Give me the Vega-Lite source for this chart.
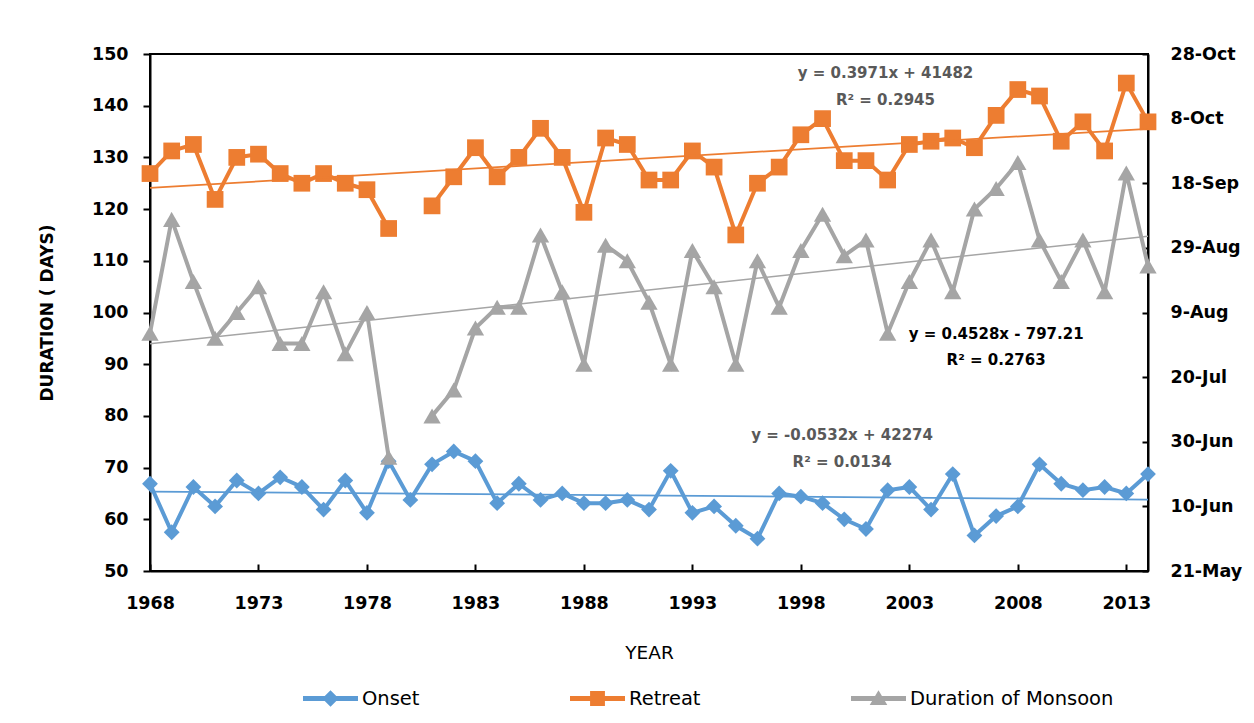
{
  "$schema": "https://vega.github.io/schema/vega-lite/v6.json",
  "width": 998,
  "height": 517,
  "autosize": {"type": "none"},
  "padding": {"left": 150, "top": 54, "right": 106, "bottom": 152},
  "background": "white",
  "config": {
    "font": "DejaVu Sans",
    "view": {"stroke": "black", "strokeWidth": 2},
    "axis": {"grid": false, "domainColor": "black", "domainWidth": 2, "tickColor": "black", "tickWidth": 2, "labelColor": "black", "labelFont": "DejaVu Sans", "labelFontWeight": "bold", "labelFontSize": 17.5, "titleColor": "black", "titleFont": "DejaVu Sans"}
  },
  "datasets": {
    "monsoon": [
      {"year": 1968, "Onset": 168, "Retreat": 264, "Duration of Monsoon": 96},
      {"year": 1969, "Onset": 153, "Retreat": 271, "Duration of Monsoon": 118},
      {"year": 1970, "Onset": 167, "Retreat": 273, "Duration of Monsoon": 106},
      {"year": 1971, "Onset": 161, "Retreat": 256, "Duration of Monsoon": 95},
      {"year": 1972, "Onset": 169, "Retreat": 269, "Duration of Monsoon": 100},
      {"year": 1973, "Onset": 165, "Retreat": 270, "Duration of Monsoon": 105},
      {"year": 1974, "Onset": 170, "Retreat": 264, "Duration of Monsoon": 94},
      {"year": 1975, "Onset": 167, "Retreat": 261, "Duration of Monsoon": 94},
      {"year": 1976, "Onset": 160, "Retreat": 264, "Duration of Monsoon": 104},
      {"year": 1977, "Onset": 169, "Retreat": 261, "Duration of Monsoon": 92},
      {"year": 1978, "Onset": 159, "Retreat": 259, "Duration of Monsoon": 100},
      {"year": 1979, "Onset": 175, "Retreat": 247, "Duration of Monsoon": 72},
      {"year": 1980, "Onset": 163, "Retreat": null, "Duration of Monsoon": null},
      {"year": 1981, "Onset": 174, "Retreat": 254, "Duration of Monsoon": 80},
      {"year": 1982, "Onset": 178, "Retreat": 263, "Duration of Monsoon": 85},
      {"year": 1983, "Onset": 175, "Retreat": 272, "Duration of Monsoon": 97},
      {"year": 1984, "Onset": 162, "Retreat": 263, "Duration of Monsoon": 101},
      {"year": 1985, "Onset": 168, "Retreat": 269, "Duration of Monsoon": 101},
      {"year": 1986, "Onset": 163, "Retreat": 278, "Duration of Monsoon": 115},
      {"year": 1987, "Onset": 165, "Retreat": 269, "Duration of Monsoon": 104},
      {"year": 1988, "Onset": 162, "Retreat": 252, "Duration of Monsoon": 90},
      {"year": 1989, "Onset": 162, "Retreat": 275, "Duration of Monsoon": 113},
      {"year": 1990, "Onset": 163, "Retreat": 273, "Duration of Monsoon": 110},
      {"year": 1991, "Onset": 160, "Retreat": 262, "Duration of Monsoon": 102},
      {"year": 1992, "Onset": 172, "Retreat": 262, "Duration of Monsoon": 90},
      {"year": 1993, "Onset": 159, "Retreat": 271, "Duration of Monsoon": 112},
      {"year": 1994, "Onset": 161, "Retreat": 266, "Duration of Monsoon": 105},
      {"year": 1995, "Onset": 155, "Retreat": 245, "Duration of Monsoon": 90},
      {"year": 1996, "Onset": 151, "Retreat": 261, "Duration of Monsoon": 110},
      {"year": 1997, "Onset": 165, "Retreat": 266, "Duration of Monsoon": 101},
      {"year": 1998, "Onset": 164, "Retreat": 276, "Duration of Monsoon": 112},
      {"year": 1999, "Onset": 162, "Retreat": 281, "Duration of Monsoon": 119},
      {"year": 2000, "Onset": 157, "Retreat": 268, "Duration of Monsoon": 111},
      {"year": 2001, "Onset": 154, "Retreat": 268, "Duration of Monsoon": 114},
      {"year": 2002, "Onset": 166, "Retreat": 262, "Duration of Monsoon": 96},
      {"year": 2003, "Onset": 167, "Retreat": 273, "Duration of Monsoon": 106},
      {"year": 2004, "Onset": 160, "Retreat": 274, "Duration of Monsoon": 114},
      {"year": 2005, "Onset": 171, "Retreat": 275, "Duration of Monsoon": 104},
      {"year": 2006, "Onset": 152, "Retreat": 272, "Duration of Monsoon": 120},
      {"year": 2007, "Onset": 158, "Retreat": 282, "Duration of Monsoon": 124},
      {"year": 2008, "Onset": 161, "Retreat": 290, "Duration of Monsoon": 129},
      {"year": 2009, "Onset": 174, "Retreat": 288, "Duration of Monsoon": 114},
      {"year": 2010, "Onset": 168, "Retreat": 274, "Duration of Monsoon": 106},
      {"year": 2011, "Onset": 166, "Retreat": 280, "Duration of Monsoon": 114},
      {"year": 2012, "Onset": 167, "Retreat": 271, "Duration of Monsoon": 104},
      {"year": 2013, "Onset": 165, "Retreat": 292, "Duration of Monsoon": 127},
      {"year": 2014, "Onset": 171, "Retreat": 280, "Duration of Monsoon": 109}
    ]
  },
  "data": {"name": "monsoon"},
  "transform": [{"fold": ["Onset", "Retreat", "Duration of Monsoon"], "as": ["series", "value"]}],
  "encoding": {
    "x": {
      "field": "year", "type": "quantitative",
      "scale": {"domain": [1968, 2014], "nice": false, "zero": false},
      "axis": {"values": [1968, 1973, 1978, 1983, 1988, 1993, 1998, 2003, 2008, 2013], "format": "d", "title": "YEAR", "tickSize": -7, "labelPadding": 30, "labelFlush": false, "titlePadding": 32, "titleFontWeight": "normal", "titleFontSize": 18.5}
    },
    "color": {
      "field": "series", "type": "nominal",
      "scale": {"domain": ["Onset", "Retreat", "Duration of Monsoon"], "range": ["#5B9BD5", "#ED7D31", "#A5A5A5"]},
      "legend": {
        "title": null, "orient": "none", "legendX": 153, "legendY": 617, "direction": "horizontal",
        "columnPadding": 150, "symbolSize": 3025, "labelFontSize": 19.5, "labelFont": "DejaVu Sans", "labelColor": "black", "labelOffset": 4, "labelLimit": 0, "symbolStrokeWidth": 0,
        "encode": {"symbols": {"update": {
          "shape": {"signal": "datum.value === 'Onset' ? 'M-1,-0.09H1V0.09H-1Z M0,-0.3L0.3,0L0,0.3L-0.3,0Z' : datum.value === 'Retreat' ? 'M-1,-0.09H1V0.09H-1Z M-0.27,-0.27H0.27V0.27H-0.27Z' : 'M-1,-0.09H1V0.09H-1Z M0,-0.3L0.32,0.24L-0.32,0.24Z'"},
          "fill": {"scale": "color", "field": "value"},
          "stroke": {"value": "transparent"},
          "opacity": {"value": 1}
        }}}
      }
    }
  },
  "layer": [
    {
      "transform": [{"filter": "datum.series !== 'Duration of Monsoon'"}],
      "encoding": {
        "y": {
          "field": "value", "type": "quantitative",
          "scale": {"domain": [141, 301], "nice": false, "zero": false},
          "axis": {"orient": "right", "title": null, "values": [141, 161, 181, 201, 221, 241, 261, 281, 301], "labelExpr": "timeFormat(datetime(2001, 0, datum.value), '%-d-%b')", "tickSize": -6, "labelPadding": 28}
        }
      },
      "layer": [
        {"mark": {"type": "line", "strokeWidth": 4, "invalid": "break-paths-show-domains"}},
        {"transform": [{"filter": "datum.series === 'Onset'"}], "mark": {"type": "point", "shape": "diamond", "filled": true, "size": 250, "opacity": 1}},
        {"transform": [{"filter": "datum.series === 'Retreat'"}], "mark": {"type": "point", "shape": "square", "filled": true, "size": 280, "opacity": 1}},
        {"transform": [{"regression": "value", "on": "year", "groupby": ["series"]}], "mark": {"type": "line", "strokeWidth": 1.75}}
      ]
    },
    {
      "transform": [{"filter": "datum.series === 'Duration of Monsoon'"}],
      "encoding": {
        "y": {
          "field": "value", "type": "quantitative",
          "scale": {"domain": [50, 150], "nice": false, "zero": false},
          "axis": {"orient": "left", "title": "DURATION ( DAYS)", "values": [50, 60, 70, 80, 90, 100, 110, 120, 130, 140, 150], "tickSize": 7, "labelPadding": 15, "titlePadding": 35, "titleFontSize": 17, "titleFontWeight": "bold"}
        }
      },
      "layer": [
        {"mark": {"type": "line", "strokeWidth": 4, "invalid": "break-paths-show-domains"}},
        {"mark": {"type": "point", "shape": "triangle-up", "filled": true, "size": 300, "opacity": 1}},
        {"transform": [{"regression": "value", "on": "year", "groupby": ["series"]}], "mark": {"type": "line", "strokeWidth": 1.5}},
        {
          "transform": [{"filter": "datum.year === 1968"}],
          "mark": {"type": "text", "align": "center", "baseline": "middle", "fontWeight": "bold", "fontSize": 15, "lineHeight": 27},
          "encoding": {"x": {"datum": 2001.9}, "y": {"datum": 146.3}, "text": {"value": ["y = 0.3971x + 41482", "R² = 0.2945"]}, "color": {"value": "#595959"}}
        },
        {
          "transform": [{"filter": "datum.year === 1968"}],
          "mark": {"type": "text", "align": "center", "baseline": "middle", "fontWeight": "bold", "fontSize": 15, "lineHeight": 26},
          "encoding": {"x": {"datum": 2007}, "y": {"datum": 95.8}, "text": {"value": ["y = 0.4528x - 797.21", "R² = 0.2763"]}, "color": {"value": "black"}}
        },
        {
          "transform": [{"filter": "datum.year === 1968"}],
          "mark": {"type": "text", "align": "center", "baseline": "middle", "fontWeight": "bold", "fontSize": 15, "lineHeight": 26.5},
          "encoding": {"x": {"datum": 1999.9}, "y": {"datum": 76.3}, "text": {"value": ["y = -0.0532x + 42274", "R² = 0.0134"]}, "color": {"value": "#595959"}}
        }
      ]
    }
  ],
  "resolve": {"scale": {"y": "independent"}}
}
